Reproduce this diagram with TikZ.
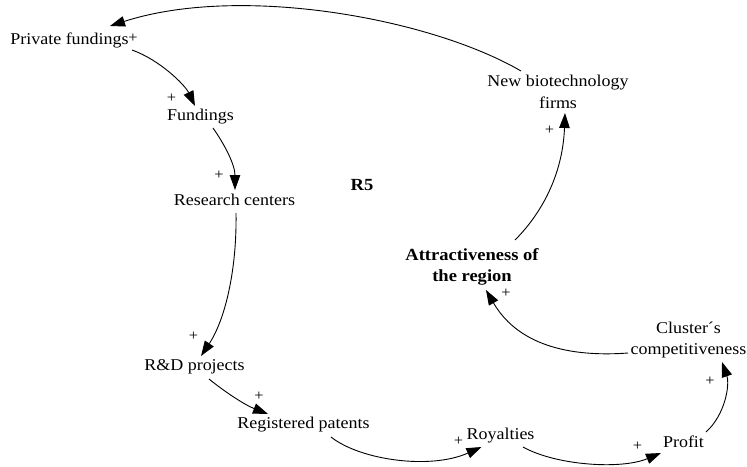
\documentclass[tikz,border=0pt]{standalone}
\usepackage{fontspec}
\setmainfont{Liberation Serif}[FakeStretch=1.09]
\usetikzlibrary{arrows.meta,calc}
\begin{document}
\begin{tikzpicture}[x=1pt,y=-1pt,
  var/.style={inner sep=0pt, align=center, font=\fontsize{16.5}{21.5}\selectfont},
  keyvar/.style={inner sep=0pt, align=center, font=\fontsize{17}{21.5}\selectfont\bfseries},
  pol/.style={inner sep=0pt, font=\fontsize{15}{15}\selectfont},
  link/.style={line width=0.9pt, -{Triangle[length=15pt,width=10.5pt]}},
]
\useasboundingbox (0,0) rectangle (747,466);

% variables of the loop
\node[var] (pf) at (69.5,40) {Private fundings};
\node[var] (fu) at (200.5,117) {Fundings};
\node[var] (rc) at (234.5,200) {Research centers};
\node[var] (rd) at (194.5,367) {R\&D projects};
\node[var] (rp) at (303.5,425) {Registered patents};
\node[var] (ro) at (500.5,436) {Royalties};
\node[var] (pr) at (683.5,442) {Profit};
\node[var] (cc) at (688.5,340) {Cluster´s\\competitiveness};
\node[keyvar] (at) at (472,267) {Attractiveness of\\the region};
\node[var] (nb) at (558,92) {New biotechnology\\firms};
\node[keyvar] (r5) at (362,185) {R5};

% causal links
\draw[link] ($(nb)+(-37,-21)$) .. controls (430,18) and (240,-16) .. ($(pf)+(40.5,-14)$);
\draw[link] ($(pf)+(62.5,10)$) .. controls (160,60) and (185,85) .. ($(fu)+(-5.5,-11)$);
\draw[link] ($(fu)+(12.5,11)$) .. controls (225,145) and (235,165) .. ($(rc)+(0.5,-10)$);
\draw[link] ($(rc)+(1.5,13)$) .. controls (237,270) and (225,320) .. ($(rd)+(6.5,-11)$);
\draw[link] ($(rd)+(14.5,12)$) .. controls (225,392) and (245,405) .. ($(rp)+(-35.5,-11)$);
\draw[link] ($(rp)+(27.5,12)$) .. controls (360,460) and (430,470) .. ($(ro)+(-19,11)$);
\draw[link] ($(ro)+(22.5,11)$) .. controls (555,465) and (620,470) .. ($(pr)+(-22.5,11)$);
\draw[link] ($(pr)+(22.5,-10)$) .. controls (725,415) and (730,385) .. ($(cc)+(33.5,22)$);
\draw[link] ($(cc)+(-60.5,13)$) .. controls (560,358) and (515,340) .. ($(at)+(14,23)$);
\draw[link] ($(at)+(43,-27)$) .. controls (545,210) and (563,170) .. ($(nb)+(7,21)$);

% link polarities
\node[pol] (s1) at (133,38.5) {+};
\node[pol] (s2) at (171.5,98.5) {+};
\node[pol] (s3) at (219,175.5) {+};
\node[pol] (s4) at (193.5,336.5) {+};
\node[pol] (s5) at (259,396) {+};
\node[pol] (s6) at (458.5,441.5) {+};
\node[pol] (s7) at (637.5,446.5) {+};
\node[pol] (s8) at (710,381.5) {+};
\node[pol] (s9) at (506,293.5) {+};
\node[pol] (s10) at (549.5,130) {+};
\end{tikzpicture}
\end{document}
